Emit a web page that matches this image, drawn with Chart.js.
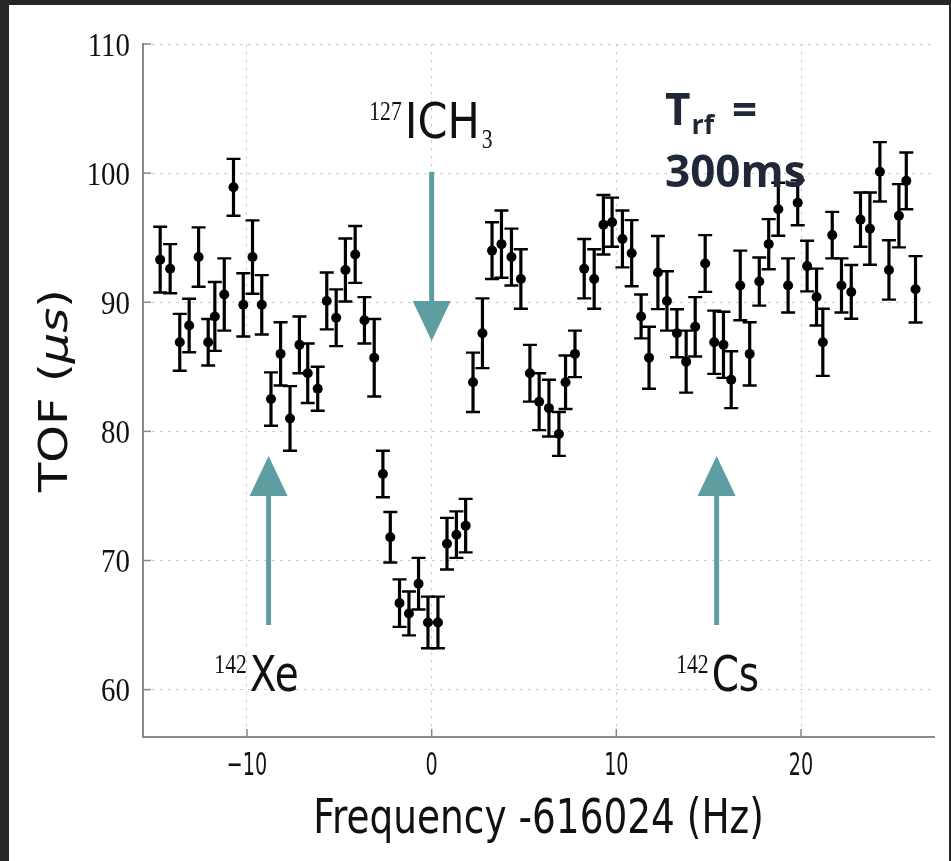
<!DOCTYPE html>
<html><head><meta charset="utf-8">
<script src="https://cdn.jsdelivr.net/npm/chart.js@4.4.1/dist/chart.umd.min.js"></script>
<style>
html,body{margin:0;padding:0;background:#262626;width:951px;height:861px;overflow:hidden}
#card{position:absolute;left:9px;top:5px;width:940px;height:856px;background:#fff}
canvas{display:block}
</style></head><body>
<div id="card"><canvas id="c" width="940" height="856"></canvas></div>
<script>
// ---- data ----
const freq = [-14.7,-14.16,-13.64,-13.13,-12.62,-12.1,-11.74,-11.23,-10.73,-10.2,-9.7,-9.2,-8.7,-8.18,-7.67,-7.16,
  -6.71,-6.17,-5.68,-5.17,-4.67,-4.14,-3.64,-3.11,
  -2.64,-2.24,-1.74,-1.23,-0.71,-0.2,0.34,0.83,1.34,1.84,
  2.24,2.75,3.27,3.78,4.32,4.83,5.32,5.82,6.35,6.89,7.25,7.76,8.26,8.8,9.3,9.77,
  10.33,10.83,11.34,11.77,12.25,12.74,13.28,13.78,14.27,14.81,15.3,15.8,16.22,16.71,17.22,17.74,18.25,18.77,
  19.3,19.82,20.33,20.84,21.18,21.69,22.19,22.72,23.22,23.73,24.27,24.76,25.3,25.7,26.2];
const tof = [93.3,92.6,86.9,88.2,93.5,86.9,88.9,90.6,98.9,89.8,93.5,89.8,82.5,86.0,81.0,86.7,
  84.5,83.3,90.1,88.8,92.5,93.7,88.6,85.7,
  76.7,71.8,66.7,65.9,68.2,65.2,65.2,71.3,72.0,72.7,
  83.8,87.6,94.0,94.5,93.5,91.8,84.5,82.3,81.8,79.8,83.8,86.0,92.6,91.8,96.0,96.2,
  94.9,93.8,88.9,85.7,92.3,90.1,87.6,85.4,88.1,93.0,86.9,86.7,84.0,91.3,86.0,91.6,94.5,97.2,
  91.3,97.7,92.8,90.4,86.9,95.2,91.3,90.8,96.4,95.7,100.1,92.5,96.7,99.4,91.0];
const tofErr = [2.55,1.9,2.2,2.07,2.3,1.8,2.67,2.8,2.2,2.45,2.84,2.3,2.07,2.45,2.5,2.2,
  2.3,1.7,2.2,2.2,2.44,2.2,1.8,3.0,
  1.8,1.96,1.84,1.7,2.0,2.0,2.0,2.0,1.8,2.07,
  2.3,2.7,2.2,2.6,2.2,2.3,2.2,2.2,2.2,1.7,2.07,1.8,2.3,2.3,2.3,1.9,
  2.2,2.56,1.7,2.4,2.83,2.3,1.86,2.4,2.3,2.2,2.45,2.56,2.2,2.7,2.45,1.86,1.94,2.05,
  2.1,1.74,1.96,2.2,2.6,1.8,2.1,2.08,2.1,2.8,2.3,2.3,2.45,2.2,2.57];
const xTickValues = [-10,0,10,20];
const yTickValues = [60,70,80,90,100,110];
const xRange = [-15.63, 27.2];
const yRange = [56.33, 110];
// annotation arrows (data units)
const arrowX = [-8.83, 0, 15.43];
const arrowFrom = [65.0, 100.1, 65.0];
const arrowTo = [78.1, 87.0, 78.1];
// annotation labels (data units: left / baseline of main text)
const labelMain = ['Xe','ICH','Cs'];
const labelSup = ['142','127','142'];
const labelSub = ['','3',''];
const labelX = [-9.85,-1.46,15.16];
const labelY = [59.92,102.69,59.92];
const xTitle = 'Frequency -616024 (Hz)';
const yTitleParts = ['TOF (','μs',')'];
const noteLine1 = ['T','rf','='];
const noteLine2 = '300ms';

function txt(ctx, s, x, y, font, k, align){
  ctx.save(); ctx.font = font;
  const w = ctx.measureText(s).width * k;
  const x0 = align === 'center' ? x - w/2 : align === 'right' ? x - w : x;
  ctx.translate(x0, y); ctx.scale(k, 1); ctx.textAlign = 'left'; ctx.textBaseline = 'alphabetic';
  ctx.fillText(s, 0, 0); ctx.restore();
  return w;
}

const overlay = {
  id: 'overlay',
  beforeDatasetsDraw(chart){
    const {ctx, scales:{x, y}} = chart;
    ctx.save(); ctx.strokeStyle = '#000';
    freq.forEach((f, i) => {
      const px = x.getPixelForValue(f);
      const t = y.getPixelForValue(tof[i] + tofErr[i]);
      const b = y.getPixelForValue(tof[i] - tofErr[i]);
      ctx.lineWidth = 3.2; ctx.beginPath(); ctx.moveTo(px, t); ctx.lineTo(px, b); ctx.stroke();
      ctx.lineWidth = 2.4; ctx.beginPath();
      ctx.moveTo(px - 7, t); ctx.lineTo(px + 7, t);
      ctx.moveTo(px - 7, b); ctx.lineTo(px + 7, b); ctx.stroke();
    });
    ctx.restore();
  },
  afterDraw(chart){
    const {ctx, chartArea: ca, scales:{x, y}} = chart;
    ctx.save();
    // inward tick marks
    ctx.strokeStyle = '#8a8a8a'; ctx.lineWidth = 1.5;
    x.ticks.forEach(t => { const px = x.getPixelForValue(t.value); ctx.beginPath(); ctx.moveTo(px, ca.bottom); ctx.lineTo(px, ca.bottom - 8); ctx.stroke(); });
    y.ticks.forEach(t => { const py = y.getPixelForValue(t.value); ctx.beginPath(); ctx.moveTo(ca.left, py); ctx.lineTo(ca.left + 8, py); ctx.stroke(); });
    // tick labels
    ctx.fillStyle = '#111';
    x.ticks.forEach(t => {
      const s = t.value < 0 ? '\u2212' + Math.abs(t.value) : String(t.value);
      txt(ctx, s, x.getPixelForValue(t.value), ca.bottom + 38, '32px "DejaVu Sans"', 0.6, 'center');
    });
    y.ticks.forEach(t => {
      txt(ctx, String(t.value), ca.left - 13, y.getPixelForValue(t.value) + 11.5, '34px "Liberation Serif"', 0.85, 'right');
    });
    // axis titles
    txt(ctx, xTitle, (ca.left + ca.right)/2, ca.bottom + 96, '48px "DejaVu Sans"', 0.78, 'center');
    ctx.save();
    ctx.translate(58, (ca.top + ca.bottom)/2 + 0);
    ctx.rotate(-Math.PI/2); ctx.scale(1, 0.8);
    const fonts = ['48px "DejaVu Sans"', 'italic 48px "DejaVu Sans"', '48px "DejaVu Sans"'];
    let tot = 0; const ws = [];
    yTitleParts.forEach((p, i) => { ctx.font = fonts[i]; const w = ctx.measureText(p).width; ws.push(w); tot += w; });
    let cx = -tot/2;
    yTitleParts.forEach((p, i) => { ctx.font = fonts[i]; ctx.fillText(p, cx, 0); cx += ws[i]; });
    ctx.restore();
    // arrows
    ctx.fillStyle = '#5f9ea0';
    arrowX.forEach((ax0, i) => {
      const ax = x.getPixelForValue(ax0), y0 = y.getPixelForValue(arrowFrom[i]), y1 = y.getPixelForValue(arrowTo[i]);
      const dir = Math.sign(y1 - y0), headL = 40, headW = 19, shaftW = 5;
      const yb = y1 - dir * headL;
      ctx.fillRect(ax - shaftW/2, Math.min(y0, yb), shaftW, Math.abs(yb - y0));
      ctx.beginPath(); ctx.moveTo(ax - headW, yb); ctx.lineTo(ax + headW, yb); ctx.lineTo(ax, y1); ctx.closePath(); ctx.fill();
    });
    // labels
    ctx.fillStyle = '#111';
    labelMain.forEach((m, i) => {
      const lx = x.getPixelForValue(labelX[i]), ly = y.getPixelForValue(labelY[i]);
      const w = txt(ctx, m, lx, ly, '50px "DejaVu Sans"', i === 1 ? 0.86 : 0.78, 'left');
      txt(ctx, labelSup[i], lx - 3, ly - 18, '27px "Liberation Serif"', 0.8, 'right');
      if (labelSub[i]) txt(ctx, labelSub[i], lx + w + 2, ly + 10, '27px "Liberation Serif"', 0.8, 'left');
    });
    // note
    ctx.fillStyle = '#1e2838';
    const nx = 656, ny = 120;
    let w1 = txt(ctx, noteLine1[0], nx, ny, 'bold 44px "Open Sans"', 1, 'left');
    txt(ctx, noteLine1[1], nx + w1 + 1, ny + 9, 'bold 27px "Open Sans"', 1, 'left');
    txt(ctx, noteLine1[2], nx + 67, ny, 'bold 44px "Open Sans"', 1, 'left');
    txt(ctx, noteLine2, nx, ny + 62, 'bold 44px "Open Sans"', 1, 'left');
    ctx.restore();
  }
};

const axisCommon = (range, ticksArr) => ({
  type: 'linear', min: range[0], max: range[1],
  afterBuildTicks: s => { s.ticks = ticksArr.map(v => ({value: v})); },
  ticks: {display: false},
  grid: {color: '#cfcfcf', lineWidth: 1, drawTicks: false},
  border: {display: true, color: '#8a8a8a', width: 2, dash: [3, 5]}
});

new Chart(document.getElementById('c'), {
  type: 'scatter',
  data: {datasets: [{
    data: freq.map((f, i) => ({x: f, y: tof[i]})),
    pointRadius: 5, pointHoverRadius: 5, backgroundColor: '#000', borderWidth: 0
  }]},
  options: {
    responsive: false, animation: false, events: [],
    layout: {padding: {left: 0, right: 15, top: 39, bottom: 0}, autoPadding: false},
    plugins: {legend: {display: false}, tooltip: {enabled: false}},
    scales: {
      x: Object.assign(axisCommon(xRange, xTickValues), {afterFit: s => { s.height = 124; }}),
      y: Object.assign(axisCommon(yRange, yTickValues), {afterFit: s => { s.width = 134; }})
    }
  },
  plugins: [overlay]
});
</script>
</body></html>
